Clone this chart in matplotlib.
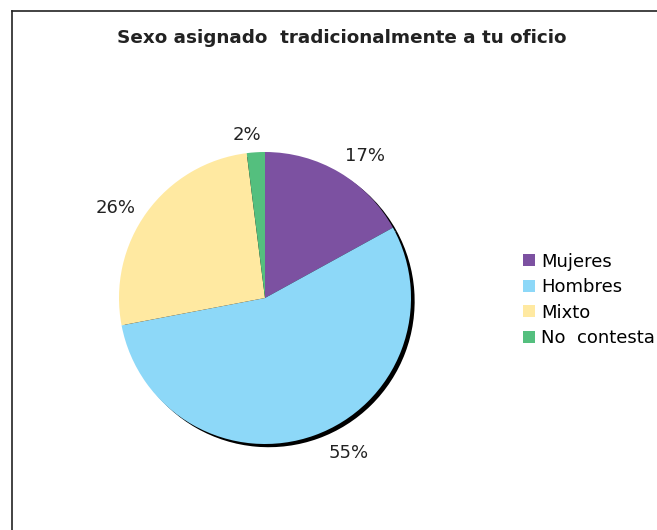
import matplotlib
matplotlib.use("Agg")
import matplotlib.pyplot as plt
from matplotlib.lines import Line2D
from matplotlib.patches import Patch

labels = ["Mujeres", "Hombres", "Mixto", "No  contesta"]
values = [17, 55, 26, 2]
colors = ["#7C51A1", "#8DD8F8", "#FFE9A1", "#54BF7E"]
title = "Sexo asignado  tradicionalmente a tu oficio"
# nudges for the percent labels (data units), like Excel's label placement
label_shift = [(0.08, -0.05), (0.17, 0.06), (-0.06, -0.08), (-0.05, -0.07)]

W, H = 657, 530
fig = plt.figure(figsize=(W / 100, H / 100), dpi=100)

# frame (only left and top edges are visible)
fig.add_artist(Line2D([12 / W, 12 / W], [0, 1 - 11 / H], color="#222222", lw=1.2))
fig.add_artist(Line2D([12 / W, 1], [1 - 11 / H, 1 - 11 / H], color="#222222", lw=1.2))

fig.text(342 / W, 1 - 38 / H, title, ha="center", va="center",
         fontsize=13.2, fontweight="bold", family="DejaVu Sans", color="#222222")

cx, cy, r = 265, 298, 146
ax = fig.add_axes([(cx - r) / W, (H - cy - r) / H, 2 * r / W, 2 * r / H])
ax.axis("off")

# shadow
ax.pie(values, colors=["black"] * len(values), startangle=90, counterclock=False,
       radius=1, center=(0.025, -0.022), frame=False)
wedges, texts, autotexts = ax.pie(values, colors=colors, startangle=90, counterclock=False,
                                  radius=1, autopct="%1.0f%%", pctdistance=1.19,
                                  textprops=dict(fontsize=13, color="#222222"))
for t, (dx, dy) in zip(autotexts, label_shift):
    x, y = t.get_position()
    t.set_position((x + dx, y + dy))
    t.set_clip_on(False)
ax.set_xlim(-1, 1)
ax.set_ylim(-1, 1)

handles = [Patch(facecolor=c, edgecolor="none") for c in colors]
fig.legend(handles, labels, loc="center left", bbox_to_anchor=(516 / W, 1 - 300 / H),
           frameon=False, fontsize=13, handlelength=0.65, handleheight=0.65,
           handletextpad=0.35, labelspacing=0.42, borderaxespad=0)

fig.savefig("out.png", dpi=100)
